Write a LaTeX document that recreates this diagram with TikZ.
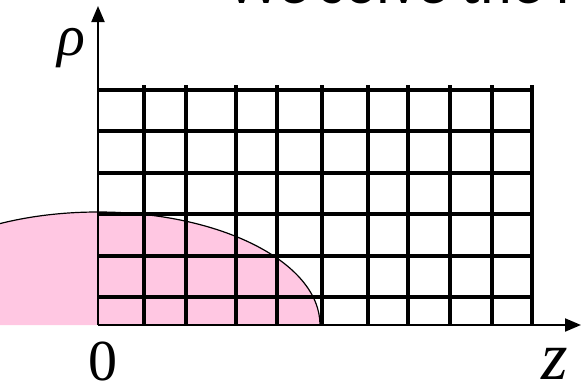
\documentclass[tikz,border=0pt]{standalone}
\usepackage{fontspec}
\newfontfamily\labelfont{Liberation Serif}
\newfontfamily\titlefont{Carlito}
\usetikzlibrary{arrows.meta, positioning}

\definecolor{droppink}{RGB}{255,199,226}

\begin{document}
\begin{tikzpicture}[
    x=1pt, y=-1pt,
    gridline/.style={line width=3.2pt, black},
    axisline/.style={line width=2pt, black, -{Triangle[length=16pt, width=13pt]}},
    lbl/.style={inner sep=0pt, font=\labelfont\fontsize{58}{58}\selectfont}
  ]
  \useasboundingbox (0,0) rectangle (582,386);
  \clip (0,0) rectangle (582,386);
  % title, cut at the top
  \node[anchor=base west, inner sep=0pt, font=\titlefont\fontsize{60}{60}\selectfont]
    (title) at (227,3.5) {We solve the f};
  % drop
  \fill[droppink] (0,325) -- (320,325) arc[start angle=0, end angle=180, x radius=222, y radius=-113] -- cycle;
  \draw[line width=1.2pt] (320,325) arc[start angle=0, end angle=180, x radius=222, y radius=-113];
  % grid
  \foreach \y in {90, 131, 173, 214, 256, 297} {
    \draw[gridline] (98,\y) -- (532,\y);
  }
  \foreach \x in {144, 186, 236, 277, 322, 368, 408, 450, 492, 532} {
    \draw[gridline] (\x,85) -- (\x,325);
  }
  % axes
  \coordinate (origin) at (98,325);
  \coordinate (rhoend) at (98,6);
  \coordinate (zend) at (581,325);
  \draw[axisline] (origin) -- (rhoend);
  \draw[axisline] (origin) -- (zend);
  \node[lbl] (rho) at (71,48) {\itshape ρ};
  \node[lbl] (zero) at (103,361) {0};
  \node[lbl, font=\labelfont\itshape\fontsize{68}{68}\selectfont] (zlbl) at (555,364) {z};
\end{tikzpicture}
\end{document}
